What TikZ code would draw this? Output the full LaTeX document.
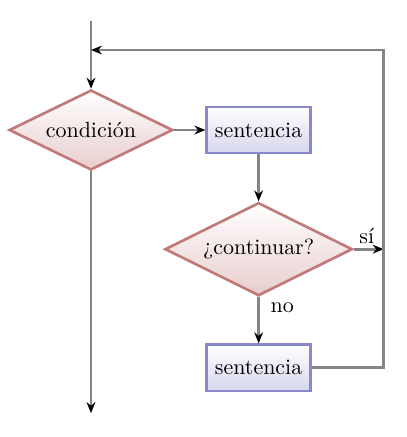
\documentclass[tikz,border=0pt]{standalone}
\usetikzlibrary{arrows.meta, positioning, shapes.geometric}
\definecolor{condline}{HTML}{C07A7A}
\definecolor{condfill}{HTML}{E8CDCD}
\definecolor{stmtline}{HTML}{8A88CC}
\definecolor{stmtfill}{HTML}{D6D6EE}
\definecolor{flowgray}{HTML}{858585}

\begin{document}
\begin{tikzpicture}[
    >={Stealth[color=black, length=5pt, width=4pt]},
    line width=1.2pt,
    cond/.style={draw=condline, diamond, aspect=2, inner sep=0pt, top color=white, bottom color=condfill},
    stmt/.style={draw=stmtline, rectangle, minimum width=1.66cm, minimum height=0.74cm, top color=white, bottom color=stmtfill},
    flow/.style={draw=flowgray, line width=1.2pt},
    lbl/.style={inner sep=2pt}
]
\useasboundingbox (-1.456,2.08) rectangle (5.056,-4.912);

% decision and statements
\node[cond, minimum width=2.62cm, minimum height=1.28cm] (cond) {condición};
\node[stmt, right=0.5cm of cond] (body) {sentencia};
\node[cond, below=0.75cm of body, minimum width=3.0cm, minimum height=1.49cm] (cont) {¿continuar?};
\node[stmt, below=0.74cm of cont] (again) {sentencia};

% free ends
\coordinate[above=1.09cm of cond] (start);
\coordinate[below=3.87cm of cond] (finish);
\coordinate[right=0.48cm of cont.east] (join);
\coordinate (back) at (cond |- 0,1.28);

% labels
\node[lbl, above right] (yes) at (cont.east) {sí};
\node[lbl, below right, xshift=0.1cm] (nolbl) at (cont.south) {no};

% arrows
\draw[flow, ->] (start) -- (cond);
\draw[flow, ->] (cond) -- (body);
\draw[flow, ->] (body) -- (cont);
\draw[flow, ->] (cont) -- (join);
\draw[flow, ->] (cont) -- (again);
\draw[flow, ->] (again.east) -| (join |- back) -- (back);
\draw[flow, ->] (cond) -- (finish);

\end{tikzpicture}
\end{document}
